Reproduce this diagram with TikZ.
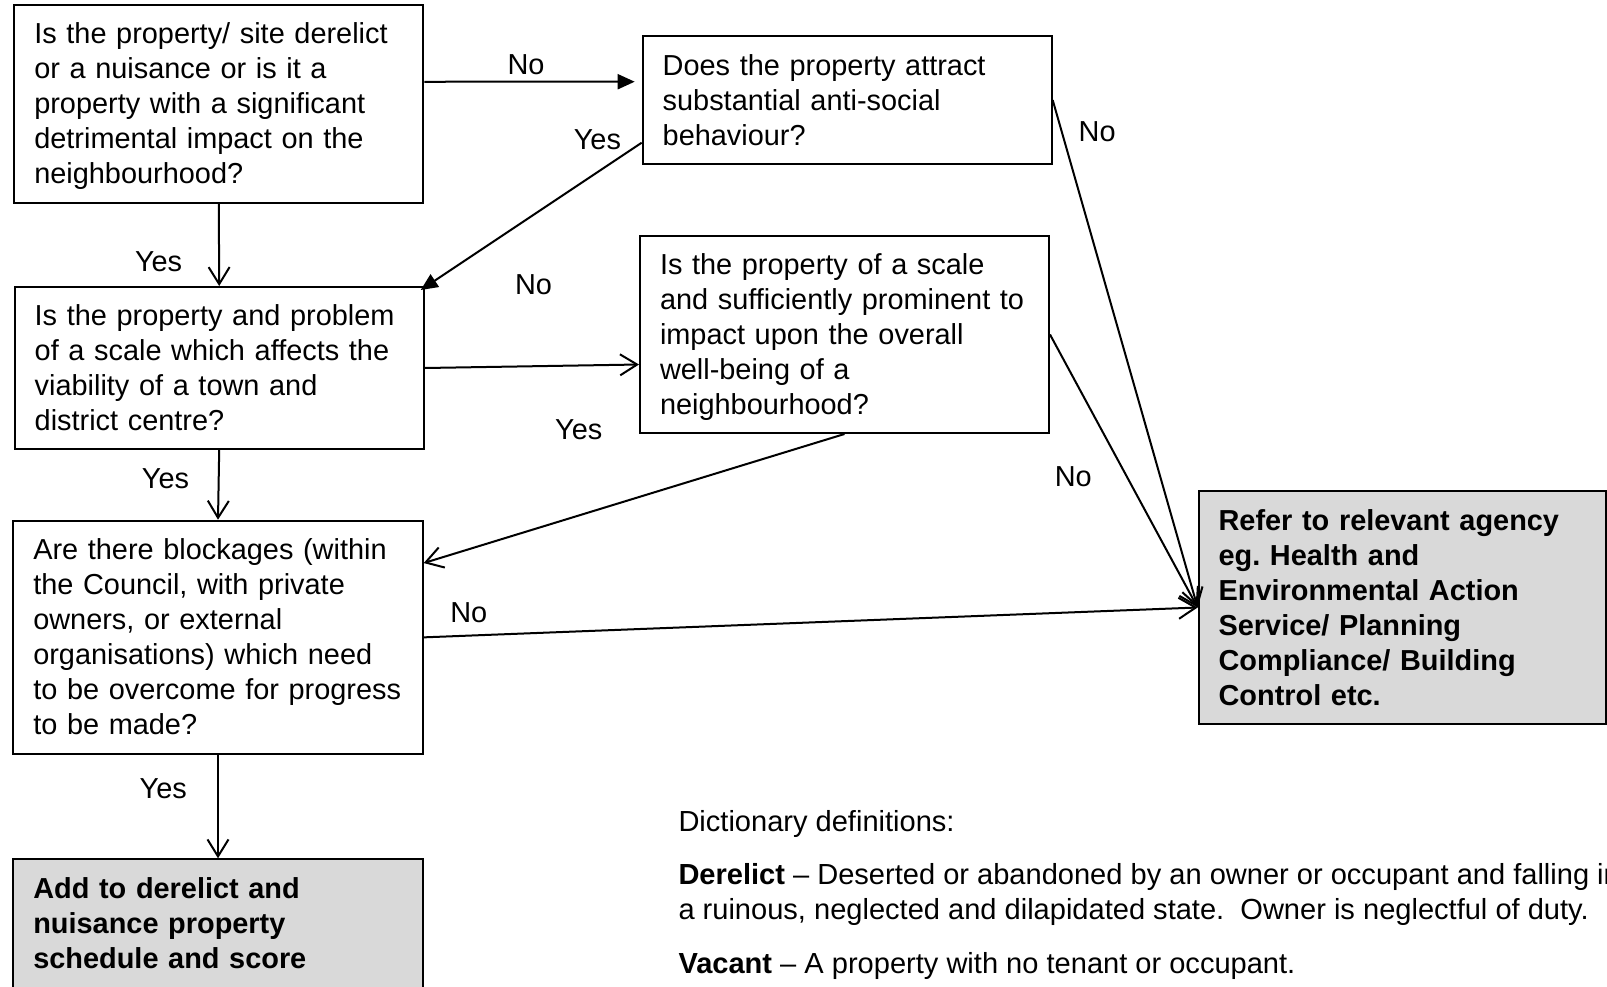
\documentclass[tikz,border=0pt]{standalone}
\usepackage{fontspec}
\setmainfont{Liberation Sans}
\usetikzlibrary{arrows.meta}
\definecolor{boxgray}{HTML}{D9D9D9}
\newcommand\lnstrut{\rule[-7.5pt]{0pt}{35pt}}
\newcommand\tline[1]{\mbox{\lnstrut #1}}
\begin{document}
\begin{tikzpicture}[x=1pt,y=-1pt,
  every node/.style={font=\frenchspacing\fontsize{28.9}{35}\selectfont},
  qbox/.style={draw=black, line width=2pt, fill=white, inner xsep=20pt, inner ysep=0pt, align=left, anchor=center},
  gbox/.style={qbox, fill=boxgray, font=\frenchspacing\fontsize{28.9}{35}\selectfont\bfseries},
  lbl/.style={anchor=center, inner sep=0pt},
  deftext/.style={anchor=base west, inner sep=0pt, font=\frenchspacing\fontsize{29.05}{35}\selectfont},
  flow/.style={line width=2pt, -{Straight Barb[length=17pt,width=21pt]}},
  flowfill/.style={line width=2pt, -{Triangle[length=17pt,width=15pt]}}
]
\fill[white] (0,0) rectangle (1607,986);
\useasboundingbox (0,0) rectangle (1607,986);

% boxes
\node[qbox, minimum width=409pt, minimum height=197.5pt, text width=369pt] (b1) at (218.8,103.75)
  {\tline{Is the property/ site derelict}\\\tline{or a nuisance or is it a}\\\tline{property with a significant}\\\tline{detrimental impact on the}\\\tline{neighbourhood?}};
\node[qbox, minimum width=409pt, minimum height=128pt, text width=369pt] (b2) at (847.2,100)
  {\tline{Does the property attract}\\\tline{substantial anti-social}\\\tline{behaviour?}};
\node[qbox, minimum width=409pt, minimum height=162pt, text width=369pt] (b3) at (219.2,368)
  {\tline{Is the property and problem}\\\tline{of a scale which affects the}\\\tline{viability of a town and}\\\tline{district centre?}};
\node[qbox, minimum width=409pt, minimum height=197pt, text width=369pt] (b4) at (844.5,334.5)
  {\tline{Is the property of a scale}\\\tline{and sufficiently prominent to}\\\tline{impact upon the overall}\\\tline{well-being of a}\\\tline{neighbourhood?}};
\node[qbox, minimum width=409.4pt, minimum height=233.3pt, text width=369.4pt] (b5) at (218,637.35)
  {\tline{Are there blockages (within}\\\tline{the Council, with private}\\\tline{owners, or external}\\\tline{organisations) which need}\\\tline{to be overcome for progress}\\\tline{to be made?}};
\node[gbox, minimum width=407.3pt, minimum height=233pt, text width=367.3pt] (b6) at (1402.25,607.5)
  {\tline{Refer to relevant agency}\\\tline{eg. Health and}\\\tline{Environmental Action}\\\tline{Service/ Planning}\\\tline{Compliance/ Building}\\\tline{Control etc.}};
\node[gbox, minimum width=409.4pt, minimum height=128.7pt, text width=369.4pt] (b7) at (218,923.65)
  {\tline{Add to derelict and}\\\tline{nuisance property}\\\tline{schedule and score}};

% connectors
\draw[flowfill, shorten >=7pt] ([yshift=22pt]b1.east) -- ([yshift=18.3pt]b2.west);
\draw[flowfill] ([yshift=-42.7pt]b2.west) -- ([xshift=-4pt,yshift=-4pt]b3.north east);
\draw[flow] (b1.south) -- (b3.north);
\draw[flow] (b3.east) -- ([yshift=-30pt]b4.west);
\draw[flow] (b3.south) -- (b5.north);
\draw[flow] (b4.south) -- ([yshift=74.3pt]b5.east);
\draw[flow] (b2.east) -- (b6.west);
\draw[flow] (b4.east) -- (b6.west);
\draw[flow] (b5.east) -- (b6.west);
\draw[flow] (b5.south) -- (b7.north);

% labels
\node[lbl] (l1) at (526,65) {No};
\node[lbl] (l2) at (597.4,139.7) {Yes};
\node[lbl] (l3) at (1097.2,131.5) {No};
\node[lbl] (l4) at (158.6,261.2) {Yes};
\node[lbl] (l5) at (533.5,284.5) {No};
\node[lbl] (l6) at (578.8,429.2) {Yes};
\node[lbl] (l7) at (165.5,478.8) {Yes};
\node[lbl] (l8) at (1073.3,476.2) {No};
\node[lbl] (l9) at (468.8,613.1) {No};
\node[lbl] (l10) at (163.3,788.3) {Yes};

% definitions
\node[deftext] (d0) at (678.3,831.5) {Dictionary definitions:};
\node[deftext] (d1) at (678.3,884.5) {\textbf{Derelict} – Deserted or abandoned by an owner or occupant and falling into};
\node[deftext] (d2) at (678.3,919.5) {a ruinous, neglected and dilapidated state.\ \ Owner is neglectful of duty.};
\node[deftext] (d3) at (678.3,973) {\textbf{Vacant} – A property with no tenant or occupant.};
\end{tikzpicture}
\end{document}
